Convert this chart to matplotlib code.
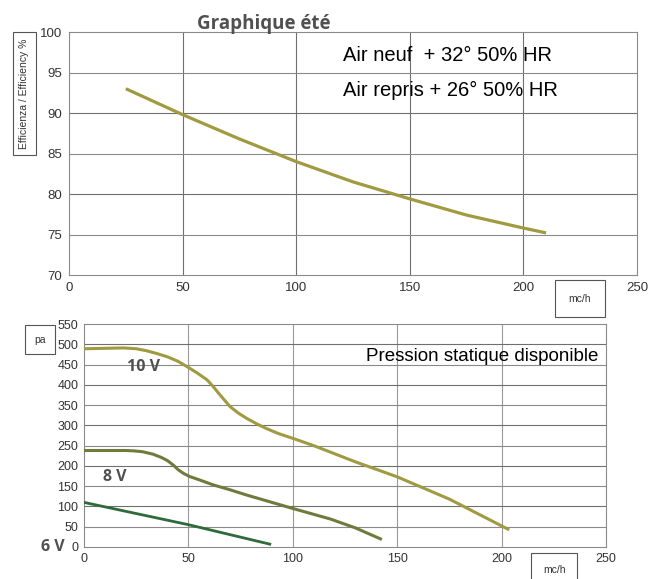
import numpy as np
import matplotlib.pyplot as plt

# efficiency curve (summer)
eff_flow = [25, 50, 75, 100, 125, 150, 175, 200, 210]
eff_val = [93.0, 89.8, 86.8, 84.0, 81.5, 79.4, 77.4, 75.8, 75.2]

# static pressure curves
v10_flow = [0, 10, 19, 25, 30, 35, 40, 45, 49, 54, 59, 62, 65, 68, 70, 74, 78, 83, 87, 93, 100,
            110, 118, 130, 150, 175, 200, 203]
v10_pa = [489, 490, 491, 489, 484, 477, 469, 458, 446, 430, 412, 395, 376, 358, 346, 330, 317, 303,
          293, 280, 268, 250, 234, 210, 173, 118, 52, 44]
v8_flow = [0, 10, 20, 24, 28, 33, 37, 40, 43, 45, 47.5, 50.5, 55, 62, 70, 78, 90, 100, 118, 130, 142]
v8_pa = [238, 238, 238, 237, 235, 229, 221, 213, 201, 191, 182, 174, 166, 153, 141, 128, 110, 95,
         69, 47, 20]
v6_flow = [0, 50, 89]
v6_pa = [110, 55, 7]

plt.rcParams['font.family'] = ['Liberation Sans', 'DejaVu Sans']

fig = plt.figure(figsize=(6.48, 5.79), dpi=100)

grid_dark = '#6f6f6f'
txt_gray = '#505050'

# ---- top chart: efficiency ----
ax1 = fig.add_axes([0.1065, 0.525, 0.8765, 0.4197])
ax1.set_xlim(0, 250)
ax1.set_ylim(70, 100)
for x in [50, 100, 150, 200]:
    ax1.axvline(x, color=grid_dark, lw=0.8, zorder=1)
for y in [75, 80, 85, 90, 95]:
    ax1.axhline(y, color=grid_dark if y in (80, 90) else '#8a8a8a', lw=0.8, zorder=1)
ax1.plot(eff_flow, eff_val, color='#a09a40', lw=2.3, solid_capstyle='butt', zorder=3)
ax1.set_xticks([0, 50, 100, 150, 200, 250])
ax1.set_yticks([70, 75, 80, 85, 90, 95, 100])
ax1.tick_params(length=0, labelsize=9.5, colors='#333333', pad=5)
for s in ax1.spines.values():
    s.set_color('#8a8a8a')
    s.set_linewidth(0.8)
ax1.text(0.342, 1.035, 'Graphique été', transform=ax1.transAxes, ha='center', va='center',
         fontsize=13.5, fontweight='bold', color=txt_gray, family=['Open Sans', 'DejaVu Sans'])
ax1.text(0.483, 0.905, 'Air neuf  + 32° 50% HR', transform=ax1.transAxes, ha='left', va='center',
         fontsize=14.5, color='black')
ax1.text(0.483, 0.76, 'Air repris + 26° 50% HR', transform=ax1.transAxes, ha='left', va='center',
         fontsize=14.5, color='black')
fig.text(0.0375, 0.838, 'Efficienza / Efficiency %', rotation=90, ha='center', va='center',
         fontsize=7.5, color='#333333',
         bbox=dict(boxstyle='square,pad=0.6', fc='white', ec='#555555', lw=0.8))
fig.text(0.895, 0.484, 'mc/h', ha='center', va='center', fontsize=7.5, color='#333333',
         bbox=dict(boxstyle='square,pad=1.3', fc='white', ec='#555555', lw=0.8))

# ---- bottom chart: pressure ----
ax2 = fig.add_axes([0.1296, 0.0553, 0.8056, 0.3851])
ax2.set_xlim(0, 250)
ax2.set_ylim(0, 550)
for x in [50, 100, 150, 200]:
    ax2.axvline(x, color='#9a9a9a', lw=0.8, zorder=1)
for y in range(50, 550, 50):
    ax2.axhline(y, color=grid_dark if (y // 50) % 2 == 0 else '#8a8a8a', lw=0.8, zorder=1)
ax2.plot(v10_flow, v10_pa, color='#a09a40', lw=2.2, zorder=3)
ax2.plot(v8_flow, v8_pa, color='#6f7a3c', lw=2.2, zorder=3)
ax2.plot(v6_flow, v6_pa, color='#2f6a3a', lw=2.0, zorder=3)
ax2.set_xticks([0, 50, 100, 150, 200, 250])
ax2.set_yticks(range(0, 551, 50))
ax2.tick_params(length=0, labelsize=9, colors='#333333', pad=4)
for s in ax2.spines.values():
    s.set_color('#8a8a8a')
    s.set_linewidth(0.8)
ax2.text(0.985, 0.855, 'Pression statique disponible', transform=ax2.transAxes, ha='right',
         va='center', fontsize=13.5, color='black')
lab_font = ['Open Sans', 'DejaVu Sans']
ax2.text(20.5, 443, '10 V', fontsize=11.5, fontweight='bold', color=txt_gray, va='center', family=lab_font)
ax2.text(9, 172, '8 V', fontsize=11.5, fontweight='bold', color=txt_gray, va='center', family=lab_font)
fig.text(0.064, 0.056, '6 V', fontsize=11.5, fontweight='bold', color=txt_gray, va='center', family=lab_font)
fig.text(0.062, 0.413, 'pa', ha='center', va='center', fontsize=7.5, color='#333333',
         bbox=dict(boxstyle='square,pad=0.9', fc='white', ec='#555555', lw=0.8))
fig.text(0.855, 0.016, 'mc/h', ha='center', va='center', fontsize=7.5, color='#333333',
         bbox=dict(boxstyle='square,pad=1.1', fc='white', ec='#555555', lw=0.8))

fig.savefig('out.png', dpi=100)
